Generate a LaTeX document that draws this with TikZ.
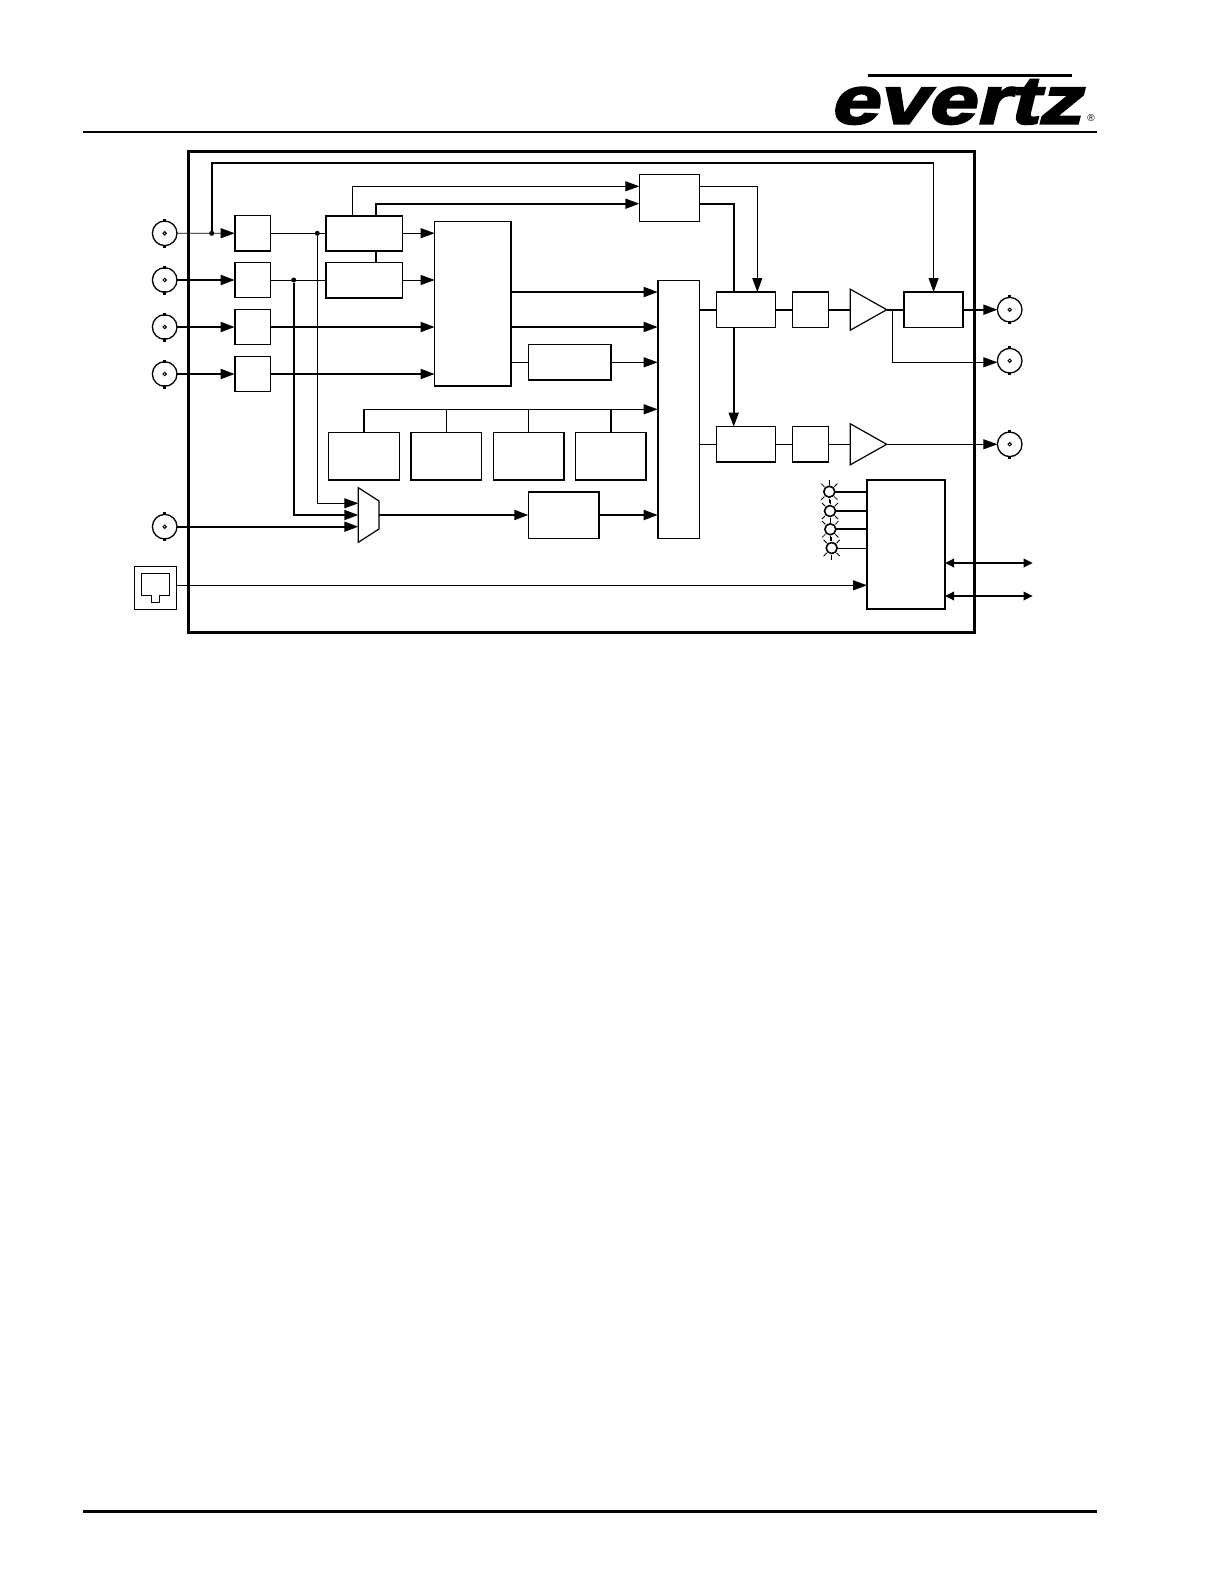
\documentclass[tikz,border=0pt]{standalone}
\usepackage{fontspec}
\usetikzlibrary{arrows.meta}
\usetikzlibrary{shapes.geometric}
\newfontfamily\logofont[FakeSlant=0.25,FakeStretch=1.3,FakeBold=3.5]{Liberation Sans Bold}
\newfontfamily\markfont{Liberation Sans}
\tikzset{
  thinline/.style={line width=0.9pt},
  thickline/.style={line width=1.8pt},
  tip/.style={-{Triangle[length=14pt,width=10pt]}},
  porttip/.style={{Triangle[length=9pt,width=8.5pt]}-{Triangle[length=9pt,width=8.5pt]}},
  blockbox/.style={draw,line width=1.6pt,fill=white,inner sep=0,outer sep=0,rectangle},
  ampbox/.style={draw,line width=1.2pt,fill=white,isosceles triangle,isosceles triangle stretches,
    minimum height=36.4pt,minimum width=41pt,inner sep=0,outer sep=0,anchor=lower side},
  bncring/.style={draw,circle,line width=1.3pt,fill=white,minimum size=24.6pt,inner sep=0,outer sep=0},
  ledring/.style={draw,circle,line width=1.6pt,fill=white,minimum size=11pt,inner sep=0,outer sep=0},
  dotnode/.style={fill,circle,minimum size=5pt,inner sep=0,outer sep=0}
}
\newcommand{\bnc}[2]{
  \node[bncring] (#1) at (#2) {};
  \draw[line width=1pt] (#1.center) circle (1.7);
  \fill (#1.north) ++(-1.7,1) rectangle ++(3.4,-3.2);
  \fill (#1.south) ++(-1.7,-1) rectangle ++(3.4,3.2);
}
\newcommand{\led}[2]{
  \foreach \a in {45,135,225,315,90,270}
    \draw[line width=0.8pt] (#2) ++(\a:7) -- ++(\a:4.5);
  \node[ledring] (#1) at (#2) {};
}
\begin{document}
\begin{tikzpicture}[x=1pt,y=-1pt]
  \useasboundingbox (0,0) rectangle (1224,1584);

%header and footer:
  \draw[line width=2.8pt] (83,132) -- (1097,132);
  \draw[line width=2.8pt] (83,1511.5) -- (1097,1511.5);
  \draw[line width=2.6pt] (868,75.5) -- (1072,75.5);
  \node[font=\logofont\fontsize{67}{67}\selectfont,inner sep=0,anchor=base west] (logo) at (829,123.5) {evertz};
  \node[font=\markfont\fontsize{10}{10}\selectfont,inner sep=0] (mark) at (1091,118.5) {®};

%outer frame:
  \draw[line width=3pt] (188.5,151.3) rectangle (974,632);

%connectors on the left:
  \bnc{bncA}{164.7,233.3}
  \bnc{bncB}{164.7,280}
  \bnc{bncC}{164.7,327}
  \bnc{bncD}{164.7,374}
  \bnc{bncE}{164.7,526.7}
  \bnc{bncF}{1009.7,309.7}
  \bnc{bncG}{1009.7,360.7}
  \bnc{bncH}{1009.7,444.3}

%blocks:
  \foreach \n/\y in {A/233.2,B/280,C/327,D/374}
    \node[blockbox,minimum width=35.6pt,minimum height=35.2pt] (eq\n) at (252.5,\y) {};
  \node[blockbox,minimum width=76.6pt,minimum height=35pt] (splitA) at (364,233.2) {};
  \node[blockbox,minimum width=76.6pt,minimum height=35.4pt] (splitB) at (364,280) {};
  \node[blockbox,minimum width=76.3pt,minimum height=164.4pt] (matrix) at (472.8,303.5) {};
  \node[blockbox,minimum width=60pt,minimum height=47pt] (top) at (669.3,197.8) {};
  \node[blockbox,minimum width=82.7pt,minimum height=35.3pt] (audio) at (569.7,362.3) {};
  \node[blockbox,minimum width=41.6pt,minimum height=258pt] (mixer) at (678.5,409.3) {};
  \foreach \n/\x in {A/364,B/446.2,C/528.8,D/610.8}
    \node[blockbox,minimum width=70.8pt,minimum height=47.3pt] (gen\n) at (\x,456.3) {};
  \node[blockbox,minimum width=70.7pt,minimum height=46.6pt] (sync) at (563.7,515) {};
  \node[blockbox,minimum width=59pt,minimum height=35.3pt] (procA) at (745.8,309.7) {};
  \node[blockbox,minimum width=59pt,minimum height=35.3pt] (procB) at (745.8,444.3) {};
  \node[blockbox,minimum width=36pt,minimum height=35.3pt] (dacA) at (810.3,309.7) {};
  \node[blockbox,minimum width=36pt,minimum height=35.3pt] (dacB) at (810.3,444.3) {};
  \node[ampbox] (ampA) at (850.3,309.7) {};
  \node[ampbox] (ampB) at (850.3,444.3) {};
  \node[blockbox,minimum width=59.3pt,minimum height=35.3pt] (relay) at (933.6,309.7) {};
  \node[blockbox,minimum width=78pt,minimum height=129pt] (ctrl) at (906,544.5) {};

%mux:
  \coordinate (muxin) at (358.3,515);
  \coordinate (muxout) at (379,515);
  \draw[line width=1.2pt,fill=white] (muxin) ++(0,-27.3) -- ++(20.7,13.3) -- ++(0,28) -- ++(-20.7,13.3) -- cycle;

%ethernet jack:
  \node[draw,line width=1.2pt,minimum width=42.4pt,minimum height=42.6pt,inner sep=0,outer sep=0] (jack) at (155.5,588) {};
  \draw[line width=1.2pt] (141.3,573.3) -- (169.7,573.3) -- (169.7,595.7) -- (159.7,595.7) -- (159.7,602.3)
    -- (151.7,602.3) -- (151.7,595.7) -- (141.3,595.7) -- cycle;

%lamps:
  \led{ledA}{829.3,491.7}
  \led{ledB}{830,511}
  \led{ledC}{830.3,529.3}
  \led{ledD}{831.7,548}

%junctions:
  \node[dotnode] (dotA) at (211.7,233.3) {};
  \node[dotnode] (dotB) at (317.3,233.3) {};
  \node[dotnode] (dotC) at (293.7,280) {};
  \coordinate (toprun) at (933.6,163);
  \coordinate (tapD) at (892.3,309.7);
  \coordinate (topA) at ([yshift=11.5pt]top.west);
  \coordinate (topB) at ([yshift=-5.9pt]top.west);
  \coordinate (topC) at ([yshift=11.5pt]top.east);
  \coordinate (topD) at ([yshift=-5.9pt]top.east);
  \coordinate (busrun) at (364,409.3);
  \coordinate (rjout) at ([yshift=2.7pt]jack.east);
  \coordinate (muxA) at (358.3,503.3);
  \coordinate (portA) at (1032.7,563);
  \coordinate (portB) at (1032.7,596);

%inputs:
  \draw[thinline,tip] (bncA) -- (eqA);
  \draw[thickline,tip] (bncB) -- (eqB);
  \draw[thickline,tip] (bncC) -- (eqC);
  \draw[thickline,tip] (bncD) -- (eqD);
  \draw[thinline] (eqA) -- (splitA);
  \draw[thinline] (eqB) -- (splitB);
  \draw[thinline,tip] (splitA) -- (splitA -| matrix.west);
  \draw[thinline,tip] (splitB) -- (splitB -| matrix.west);
  \draw[thickline,tip] (eqC) -- (eqC -| matrix.west);
  \draw[thickline,tip] (eqD) -- (eqD -| matrix.west);
  \draw[thickline] ([xshift=12pt]splitA.south) -- ([xshift=12pt]splitB.north);

%top paths:
  \draw[thickline] (dotA) |- (toprun);
  \draw[thinline,tip] (toprun) -- (relay.north);
  \draw[thinline,tip] ([xshift=-11.7pt]splitA.north) |- (topA);
  \draw[thickline,tip] ([xshift=12pt]splitA.north) |- (topB);
  \draw[thinline,tip] (topC) -| ([xshift=11.5pt]procA.north);
  \draw[thickline] (topD) -| ([xshift=-12.1pt]procA.north);
  \draw[thickline,tip] ([xshift=-12.1pt]procA.south) -- ([xshift=-12.1pt]procB.north);

%into the mixer:
  \draw[thickline,tip] (matrix.east |- procA.north) -- (mixer.west |- procA.north);
  \draw[thickline,tip] (matrix.east |- eqC) -- (mixer.west |- eqC);
  \draw[thinline] (matrix.east |- audio) -- (audio);
  \draw[thinline,tip] (audio) -- (audio -| mixer.west);
  \draw[thinline,tip] (busrun) -- (busrun -| mixer.west);
  \draw[thickline] (genA.north) -- (genA.north |- busrun);
  \draw[thinline] (genB.north) -- (genB.north |- busrun);
  \draw[thinline] (genC.north) -- (genC.north |- busrun);
  \draw[thickline] (genD.north) -- (genD.north |- busrun);

%mux inputs:
  \draw[thinline,tip] (dotB) |- (muxA);
  \draw[thickline,tip] (dotC) |- (muxin);
  \draw[thickline,tip] (bncE) -- (bncE -| muxin);
  \draw[thickline,tip] (muxout) -- (sync);
  \draw[thickline,tip] (sync) -- (sync -| mixer.west);

%outputs:
  \draw[thickline] (mixer.east |- procA) -- (procA);
  \draw[thinline] (mixer.east |- procB) -- (procB);
  \draw[thickline] (procA) -- (dacA);
  \draw[thinline] (procB) -- (dacB);
  \draw[thickline] (dacA) -- (ampA.lower side);
  \draw[thinline] (dacB) -- (ampB.lower side);
  \draw[thickline] (ampA.apex) -- (relay);
  \draw[thickline,tip] (relay) -- (bncF);
  \draw[thinline,tip] (tapD) |- (bncG.west |- audio);
  \draw[thinline,tip] (ampB.apex) -- (bncH);

%control:
  \draw[thickline] (ledA) -- (ledA -| ctrl.west);
  \draw[thickline] (ledB) -- (ledB -| ctrl.west);
  \draw[thickline] (ledC) -- (ledC -| ctrl.west);
  \draw[thinline] (ledD) -- (ledD -| ctrl.west);
  \draw[thinline,tip] (rjout) -- (rjout -| ctrl.west);
  \draw[thickline,porttip] (ctrl.east |- portA) -- (portA);
  \draw[thickline,porttip] (ctrl.east |- portB) -- (portB);
\end{tikzpicture}
\end{document}
